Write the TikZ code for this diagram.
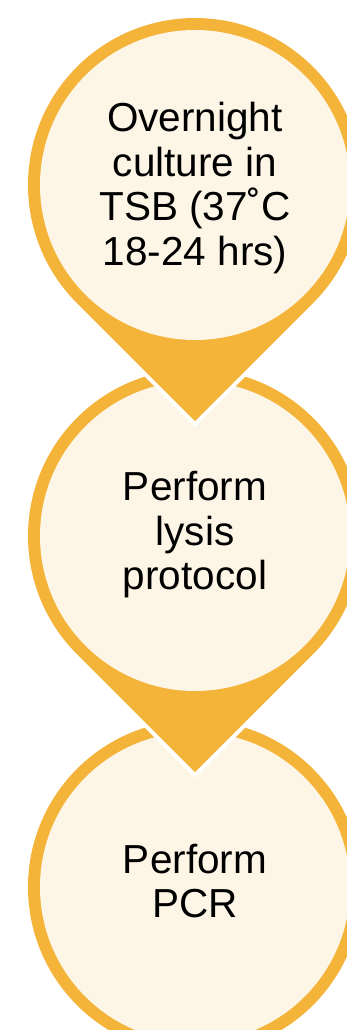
\documentclass[tikz,border=0pt]{standalone}
\usepackage{fontspec}
\setmainfont{Liberation Sans}
\usetikzlibrary{calc}
\definecolor{ringorange}{RGB}{244,180,58}
\definecolor{creamfill}{RGB}{253,246,231}
\newcommand\tdshape[3]{%
  \fill[#3] ($(#1)+(0,{-#2*1.41421})$) -- ($(#1)+(-45:#2)$)
    arc[start angle=-45,end angle=225,radius=#2] -- cycle;}
\begin{document}
\begin{tikzpicture}[x=1pt,y=1pt,
  stepcircle/.style={circle,fill=creamfill,minimum size=310,inner sep=0pt},
  steptext/.style={align=center,font=\fontsize{40.5}{44.5}\selectfont,inner sep=0pt,text=black}]
\useasboundingbox (0,0) rectangle (347,-1030);
\clip (0,0) rectangle (347,-1030);
\fill[white] (0,0) rectangle (347,-1030);
\coordinate (c1) at (195,-185);
\coordinate (c2) at (195,-536);
\coordinate (c3) at (195,-887);
% step 3
\fill[ringorange] (c3) circle[radius=167];
\node[stepcircle] (s3) at (c3) {};
\node[steptext] (t3) at ($(c3)+(0,6)$) {Perform\\PCR};
% step 2
\tdshape{c2}{171}{white}
\tdshape{c2}{167}{ringorange}
\node[stepcircle] (s2) at (c2) {};
\node[steptext] (t2) at ($(c2)+(0,1)$) {Perform\\lysis\\protocol};
% step 1
\tdshape{c1}{171}{white}
\tdshape{c1}{167}{ringorange}
\node[stepcircle] (s1) at (c1) {};
\node[steptext] (t1) at ($(c1)+(0,-3)$) {Overnight\\culture in\\TSB (37˚C\\18-24 hrs)};
\end{tikzpicture}
\end{document}
